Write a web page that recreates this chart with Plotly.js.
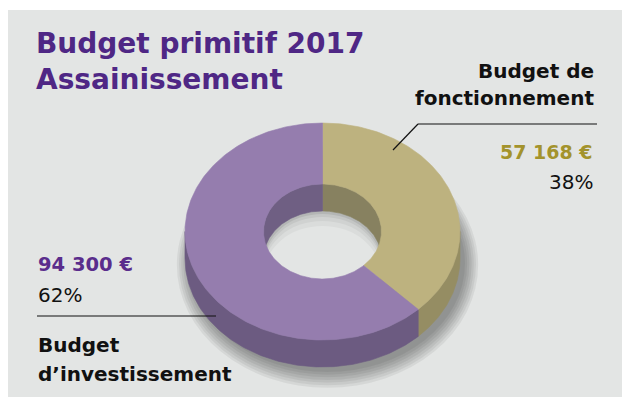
<!DOCTYPE html>
<html>
<head>
<meta charset="utf-8">
<script src="https://cdn.plot.ly/plotly-3.0.1.min.js"></script>
<style>html,body{margin:0;padding:0;background:#fff;}#chart{width:622px;height:407px;}</style>
</head>
<body>
<div id="chart"></div>
<script>
// ---- data ----
const categories = ['Budget de<br>fonctionnement', 'Budget<br>d’investissement'];
const values = [57168, 94300];
const valueLabels = ['57 168 €', '94 300 €'];
const percentLabels = ['38%', '62%'];
const titleText = 'Budget primitif 2017<br>Assainissement';

// ---- style / geometry ----
const topColors = ['#bdb27f', '#957dae'];
const outerWallColors = ['#958d63', '#6c5b81'];
const innerWallColors = ['#878160', '#6f5f83'];
const valueColors = ['#a3932c', '#5a2d8c'];
const BG = '#e3e5e4';
const CX = 322.5, CY = 231.5, RXO = 137.5, RYO = 108.5, RXI = 59, RYI = 47.5, D = 27;

function pt(t, rx, ry, dy) {
  const r = t * Math.PI / 180;
  return [CX + rx * Math.sin(r), CY - ry * Math.cos(r) + dy];
}
function arc(t0, t1, rx, ry, dy) {
  const n = Math.max(2, Math.ceil(Math.abs(t1 - t0)));
  const out = [];
  for (let i = 0; i <= n; i++) out.push(pt(t0 + (t1 - t0) * i / n, rx, ry, dy));
  return out;
}
function poly(points, color) {
  points = points.concat([points[0]]);
  return {
    type: 'scatter', mode: 'lines', x: points.map(p => p[0]), y: points.map(p => p[1]),
    fill: 'toself', fillcolor: color, line: {color: color, width: 0.6},
    hoverinfo: 'skip', showlegend: false
  };
}
function intersect(a, b, c, d) {
  const lo = Math.max(a, c), hi = Math.min(b, d);
  return hi > lo ? [lo, hi] : null;
}

const total = values.reduce((s, v) => s + v, 0);
const slices = [];
let cum = 0;
values.forEach((v, i) => {
  const t0 = cum / total * 360; cum += v;
  const t1 = cum / total * 360;
  slices.push([t0, t1]);
});

const wallTraces = [], innerTraces = [], topTraces = [];
slices.forEach(([t0, t1], i) => {
  const w = intersect(t0, t1, 90, 270);
  if (w) wallTraces.push(poly(arc(w[0], w[1], RXO, RYO, 0).concat(arc(w[1], w[0], RXO, RYO, D)), outerWallColors[i]));
  [[0, 90], [270, 360]].forEach(([a, b]) => {
    const iw = intersect(t0, t1, a, b);
    if (iw) innerTraces.push(poly(arc(iw[0], iw[1], RXI, RYI, 0).concat(arc(iw[1], iw[0], RXI, RYI, D)), innerWallColors[i]));
  });
  topTraces.push(poly(arc(t0, t1, RXO, RYO, 0).concat(arc(t1, t0, RXI, RYI, 0)), topColors[i]));
});

// ---- shapes ----
const shapes = [{type: 'rect', xref: 'x', yref: 'y', x0: 8, x1: 640, y0: 10, y1: 397, fillcolor: BG, line: {width: 0}, layer: 'below'}];
for (let k = 0; k < 7; k++) {
  const g = k * 2.2;
  shapes.push({type: 'circle', xref: 'x', yref: 'y', layer: 'below',
    x0: CX + 5 - RXO - g, x1: CX + 5 + RXO + g, y0: CY + D + 5 - RYO - g, y1: CY + D + 5 + RYO + g * 1.2,
    fillcolor: 'rgba(0,0,0,0.06)', line: {width: 0}});
}
// hole floor with soft shadow under the inner wall
shapes.push({type: 'circle', xref: 'x', yref: 'y', layer: 'below',
  x0: CX - RXI, x1: CX + RXI, y0: CY - RYI, y1: CY + RYI, fillcolor: '#b4b6b5', line: {width: 0}});
[[3, '#c4c6c5'], [6, '#d0d2d1'], [10, '#dadcdb'], [15, BG]].forEach(([off, col]) => {
  shapes.push({type: 'circle', xref: 'x', yref: 'y', layer: 'below',
    x0: CX - RXI + 1, x1: CX + RXI - 1, y0: CY - RYI + D + off, y1: CY + RYI + D + off, fillcolor: col, line: {width: 0}});
});
// leader lines
shapes.push({type: 'line', xref: 'x', yref: 'y', x0: 418, y0: 124, x1: 597, y1: 124, line: {color: '#111', width: 1.2}});
shapes.push({type: 'line', xref: 'x', yref: 'y', x0: 418, y0: 124, x1: 393, y1: 150, line: {color: '#111', width: 1.2}});
shapes.push({type: 'line', xref: 'x', yref: 'y', x0: 37, y0: 316, x1: 216, y1: 316, line: {color: '#111', width: 1.2}});

// ---- annotations ----
const BOLD = 'DejaVu Sans';
function ann(text, x, y, xanchor, size, color, weight) {
  return {text: text, x: x, y: y, xref: 'x', yref: 'y', xanchor: xanchor, yanchor: 'middle',
    showarrow: false, borderpad: 0, font: {family: BOLD, size: size, color: color, weight: weight}};
}
const catLines = categories.map(c => c.split('<br>'));
const annotations = [
  ann(catLines[0][0], 595, 70.7, 'right', 20, '#111', 700),
  ann(catLines[0][1], 595, 98, 'right', 20, '#111', 700),
  ann(valueLabels[0], 594, 152.4, 'right', 19, valueColors[0], 700),
  ann(percentLabels[0], 594, 182, 'right', 20, '#111', 400),
  ann(valueLabels[1], 37, 264, 'left', 19.5, valueColors[1], 700),
  ann(percentLabels[1], 37, 294.7, 'left', 20, '#111', 400),
  ann(catLines[1][0], 37, 344.7, 'left', 20, '#111', 700),
  ann(catLines[1][1], 37, 374, 'left', 20, '#111', 700)
];

const layout = {
  width: 622, height: 407, margin: {l: 0, r: 0, t: 0, b: 0},
  paper_bgcolor: '#ffffff', plot_bgcolor: 'rgba(0,0,0,0)',
  xaxis: {range: [0, 622], visible: false, fixedrange: true},
  yaxis: {range: [407, 0], visible: false, fixedrange: true},
  title: {text: titleText, xref: 'paper', yref: 'paper', x: 36 / 622, xanchor: 'left', y: 1 - 53 / 407, yanchor: 'top',
    font: {family: BOLD, size: 28, color: '#4f2785', weight: 700}},
  shapes: shapes, annotations: annotations, showlegend: false
};

Plotly.newPlot('chart', wallTraces.concat(innerTraces, topTraces), layout, {displayModeBar: false, staticPlot: true});
</script>
</body>
</html>
